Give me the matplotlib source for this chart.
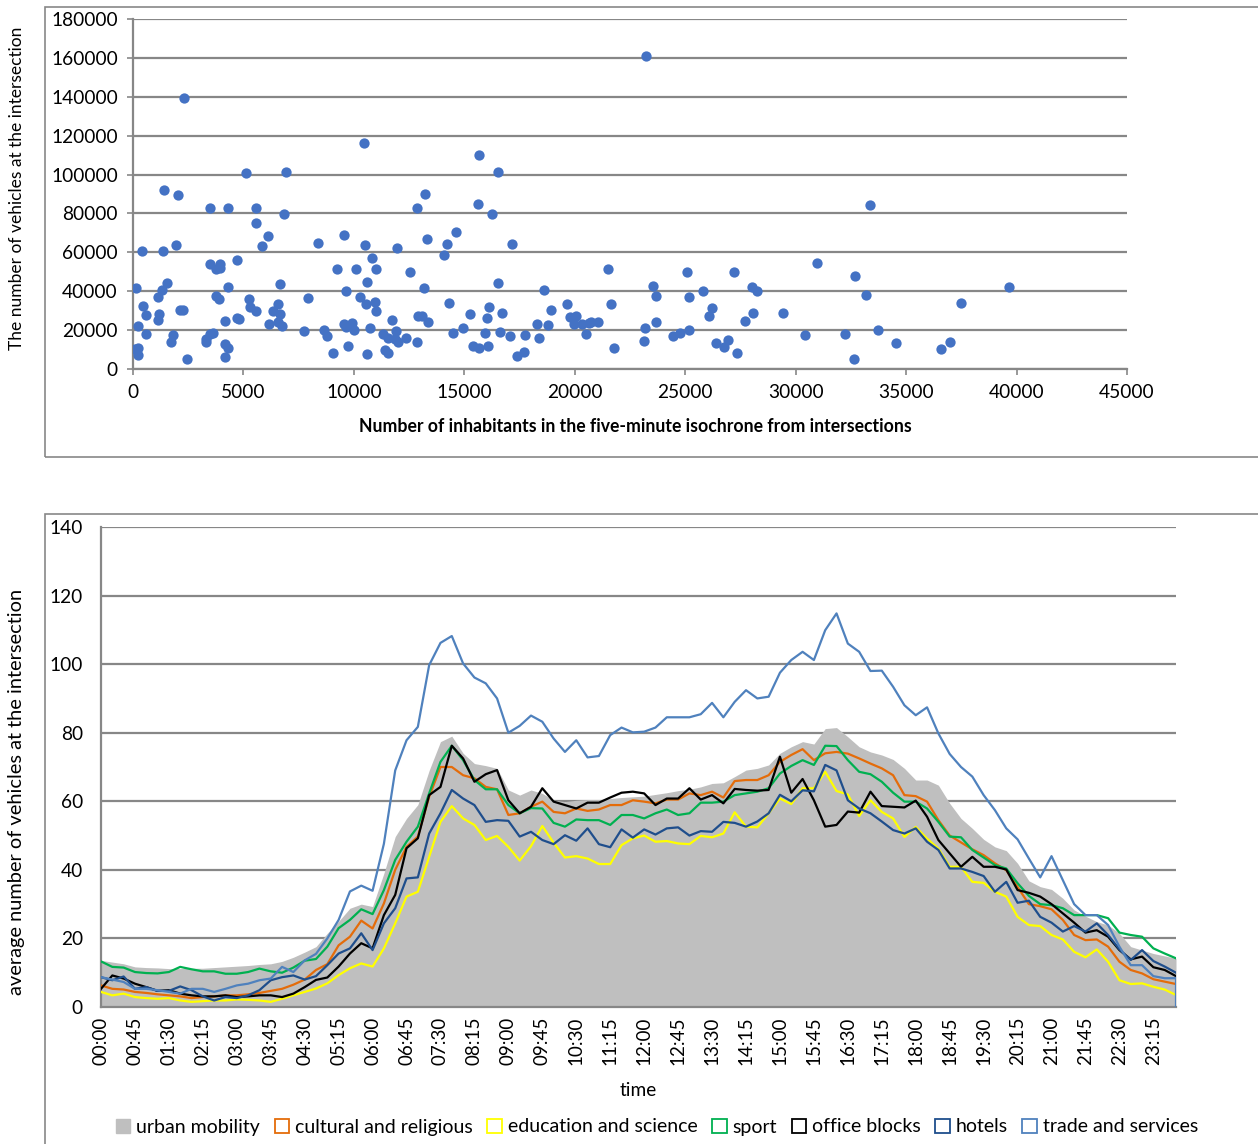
import matplotlib
matplotlib.use('Agg')
import matplotlib.pyplot as plt
from matplotlib.patches import Rectangle, Patch
from matplotlib.ticker import MultipleLocator, FuncFormatter

plt.rcParams['font.family'] = ['Lato', 'DejaVu Sans']

# --- top chart: inhabitants vs vehicles ---
inhabitants = [75, 226, 241, 151, 226, 407, 452, 573, 588, 1116, 1116, 1176, 1297, 1388, 1373,
               1538, 1719, 1810, 1931, 2021, 2112, 2262, 2323, 2443, 3288, 3318, 3469, 3620, 3469,
               3469, 3740, 3891, 3740, 3922, 3952, 4163, 4163, 4314, 4148, 4314, 4314, 4706, 4796,
               4706, 5098, 5249, 5309, 5581, 5551, 5551, 5852, 6094, 6154, 6335, 6546, 6667, 6576,
               6727, 6667, 6848, 6908, 7722, 7903, 8371, 8627, 8778, 9065, 9231, 9548, 9623, 9532,
               9653, 9744, 9925, 10015, 10106, 10256, 10437, 10498, 10558, 10588, 10588, 10709,
               10799, 10950, 10980, 11011, 11312, 11403, 11538, 11538, 11719, 11916, 11840, 12006,
               11946, 12368, 12549, 12866, 12866, 12922, 13072, 13238, 13163, 13298, 13374, 14081,
               14232, 14322, 14623, 14503, 14955, 15256, 15376, 15663, 15678, 15602, 15949, 16039,
               16099, 16084, 16235, 16521, 16521, 16611, 16717, 17078, 17154, 17364, 17696, 17756,
               18298, 18358, 18629, 18810, 18946, 19654, 19804, 19955, 20075, 20346, 20497, 20647,
               20753, 21054, 21506, 21657, 21792, 23132, 23192, 23237, 23538, 23658, 23689, 24443,
               24774, 25075, 25165, 25165, 25798, 26099, 26220, 26371, 26777, 26928, 27214, 27334,
               27696, 28012, 28087, 28268, 29443, 30407, 30979, 32244, 32620, 32666, 33193, 33343,
               33705, 34548, 36581, 37003, 37500, 39638]
vehicles = [10290, 10980, 7200, 41500, 22300, 60900, 32600, 27950, 18180, 36870, 25210, 28130,
            40470, 91920, 60710, 44420, 14060, 17490, 63970, 89350, 30530, 30530, 139430, 5150,
            13720, 15260, 17840, 18690, 53850, 82830, 37390, 35840, 51620, 54020, 51790, 24870,
            12860, 10980, 6000, 42020, 82660, 26410, 25550, 56250, 100670, 35840, 31730, 30010,
            82660, 75290, 63280, 68430, 23320, 30010, 33270, 28300, 24350, 22120, 43900, 79580,
            101360, 19380, 36360, 65000, 20240, 16980, 8060, 51620, 69110, 40130, 23150, 21780,
            11830, 23840, 19890, 51620, 37040, 116450, 63800, 33610, 44930, 7720, 20920, 56940,
            34300, 51620, 30010, 17840, 9780, 8400, 16120, 25210, 19550, 15430, 14060, 62430,
            16120, 50080, 14060, 83000, 27270, 27270, 90040, 41500, 67060, 24350, 58650, 64310,
            33790, 70660, 18690, 21270, 28300, 11830, 10980, 110100, 84890, 18350, 26410, 31900,
            12000, 79580, 101530, 44080, 18870, 28640, 17150, 64310, 6690, 8580, 17490, 23150,
            15780, 40650, 22640, 30530, 33440, 26930, 22980, 27270, 22980, 17840, 23840, 24350,
            24350, 51280, 33270, 10980, 14230, 21270, 161210, 42870, 37390, 24010, 17150, 18690,
            50080, 37220, 20070, 40300, 27270, 31210, 13210, 11490, 14920, 49730, 8400, 24700,
            42020, 28640, 40300, 28980, 17320, 54370, 17840, 5150, 47850, 38070, 84380, 19890,
            13550, 10460, 13720, 33790, 42190]

# --- bottom chart: average vehicles per 15 min ---
times = ['%02d:%02d' % (h, m) for h in range(24) for m in (0, 15, 30, 45)]

urban = [13.6, 13.1, 12.6, 11.7, 11.5, 11.4, 11.2, 11.2, 11.3, 11.3, 11.5, 11.7, 11.9, 12.1, 12.4, 12.6, 13.3, 14.5, 16,
         17.6, 21.5, 25, 28.8, 30, 29.3, 39, 49.7, 55, 59, 69, 77.4, 79, 74, 71, 70.4, 69.6, 63.3, 61.8, 63.3,
         62.3, 60.3, 59.9, 60.3, 60.5, 60.5, 60.8, 61.1, 61.3, 61.5, 62, 62.5, 63.1, 63.5, 64.2, 65.2, 65.4, 67.2, 69.1,
         69.6, 70.6, 74, 75.9, 77.4, 76.7, 81.2, 81.5, 78.8, 75.9, 74.4, 73.5, 72.2, 69.6, 66.2, 66.2, 64.7, 59.4, 55,
         52.1, 48.9, 46.7, 45.6, 41.9, 36.8, 35.1, 34.3, 31.7, 28.3, 26.5, 24.9, 23.9, 21.5, 17.6, 16.6, 15.6, 14.9, 14.2]
cultural = [6.3, 5.3, 5.1, 4.4, 4.1, 3.7, 3.4, 3.1, 2.6, 2.9, 3.1, 3.4, 3.4, 3.7, 4.1, 4.7, 5.3, 6.5, 8,
            10.8, 12.5, 18, 20.5, 25.2, 22.9, 30.2, 40, 46.7, 49.7, 61.3, 70, 70, 67.6, 66.7, 64.2, 63.5, 56, 56.5, 58.4,
            59.9, 56.9, 56.5, 57.9, 57.2, 57.6, 58.9, 58.9, 60.3, 59.9, 59.4, 60.5, 60.5, 62.3, 61.8, 62.8, 61.1, 65.9, 66.2,
            66.2, 67.6, 71.5, 73.5, 75.2, 72, 74, 74.4, 73.9, 72.5, 71, 69.6, 67.6, 61.8, 61.5, 59.9, 54.5, 50, 48,
            46, 44.3, 41.9, 39.9, 35, 30, 29.4, 28.5, 25.4, 21, 19.5, 19.7, 17.6, 13.2, 10.8, 9.8, 8.1, 7.4, 6.7]
education = [4.4, 3.4, 3.9, 2.9, 2.6, 2.4, 2.6, 1.9, 1.5, 1.7, 1.9, 1.9, 2.2, 2.1, 1.9, 1.5, 2.4, 3.4, 4.4,
             5.4, 6.9, 9.3, 11.3, 12.7, 11.8, 17.1, 24.4, 32.2, 33.6, 43.8, 54, 58.6, 55, 53.1, 48.7, 49.9, 46.7, 42.7, 46.9,
             52.8, 47.9, 43.6, 44, 43.3, 41.7, 41.7, 47.2, 49.2, 50, 48.2, 48.4, 47.7, 47.5, 49.9, 49.5, 50.6, 56.8, 52.6,
             52.4, 56.5, 60.8, 59.2, 63.8, 63.8, 68.6, 63, 62, 55.7, 60.3, 56.9, 55, 49.6, 52.5, 49.1, 46.2, 40.9, 40.9,
             36.5, 36.2, 33.6, 32.2, 26.3, 23.9, 23.6, 21, 19.7, 16.1, 14.5, 16.8, 13.2, 7.8, 6.7, 6.9, 5.9, 5.1, 3.5]
sport = [13.3, 11.7, 11.5, 10.2, 9.9, 9.8, 10.2, 11.7, 11, 10.4, 10.4, 9.7, 9.7, 10.2, 11.2, 10.4, 10, 11.5, 13.5,
         14, 17.6, 23, 25.4, 28.5, 27.1, 34.1, 42.9, 48.2, 52.6, 62.3, 71.5, 76.2, 72, 66.2, 63.5, 63.5, 58.9, 56.5, 58,
         57.9, 53.7, 52.6, 54.7, 54.5, 54.5, 53.1, 56, 56, 55, 56.5, 57.6, 56, 56.5, 59.6, 59.6, 59.9, 61.8, 62.3,
         62.8, 63.8, 68.1, 70.3, 72, 70.6, 76.2, 76.1, 72, 68.6, 67.9, 65.7, 62.5, 59.9, 59.9, 57.9, 54, 49.7, 49.5,
         45.8, 43.6, 41.4, 40.4, 36.1, 32.4, 30, 29.7, 28.8, 26.8, 26.8, 26.8, 25.9, 21.7, 21, 20.5, 17.1, 15.6, 14.2]
office = [5.3, 9.2, 8.3, 6.8, 5.8, 4.7, 4.9, 3.9, 3.4, 3.1, 3.1, 3.4, 2.9, 3.1, 3.4, 3.4, 2.9, 3.9, 5.8,
          7.9, 8.6, 11.8, 15.6, 18.6, 17.1, 26.8, 32.7, 46.3, 49.2, 61.8, 64.2, 76.2, 72.5, 65.7, 67.9, 69.1, 60.3, 56.5, 58.4,
          63.8, 59.9, 58.9, 57.9, 59.6, 59.6, 61.1, 62.5, 62.8, 62.3, 58.9, 60.8, 60.8, 63.8, 60.5, 61.8, 59.4, 63.6, 63.3,
          63.1, 63.3, 73, 62.5, 66.5, 60.3, 52.6, 53.1, 57, 56.7, 62.8, 58.6, 58.4, 58.2, 60.2, 55.5, 48.7, 44.8, 40.9,
          43.8, 40.9, 40.9, 40.1, 34.1, 33.3, 32.2, 30, 27.3, 24.6, 21.7, 22.4, 20.5, 16.6, 13.9, 14.7, 11.6, 10.8, 9]
hotels = [8.7, 7.8, 8.9, 5.3, 5.8, 4.7, 4.7, 6, 4.9, 3.1, 1.9, 2.9, 2.6, 3.4, 4.9, 7.8, 8.7, 9.2, 8,
          9, 12.2, 15.6, 17.1, 21.5, 16.6, 24.4, 28.8, 37.5, 37.8, 50.6, 56.5, 63.3, 60.8, 58.9, 54, 54.5, 54.3, 49.7, 51.1,
          48.7, 47.5, 50.1, 48.5, 52.1, 47.5, 46.6, 51.8, 49.4, 51.8, 50.3, 52.1, 52.4, 50, 51.3, 51.1, 54, 53.7, 52.6,
          54.1, 56.5, 61.9, 60, 63.2, 62.9, 70.6, 69, 60.3, 57.9, 56.5, 54.1, 51.6, 50.6, 52.1, 48.2, 45.8, 40.4, 40.4,
          39.4, 38.2, 33.6, 36.5, 30.4, 31, 26.3, 24.6, 22, 23.6, 22, 24.4, 21, 16.8, 13.7, 16.6, 13.4, 11.8, 10]
trade = [8.7, 8, 7.3, 5.3, 5.3, 4.9, 4.4, 3.9, 5.3, 5.3, 4.4, 5.3, 6.3, 6.8, 7.8, 8.3, 11.7, 10.2, 13.6,
         15.5, 20, 25.4, 33.7, 35.4, 33.9, 47.6, 69, 77.8, 81.7, 99.7, 106.2, 108.2, 100.2, 96.1, 94.4, 90, 80, 82, 85,
         83.2, 78.3, 74.4, 77.8, 72.8, 73.2, 79.3, 81.5, 80.1, 80.3, 81.5, 84.5, 84.5, 84.5, 85.4, 88.7, 84.5, 89, 92.4,
         90, 90.5, 97.5, 101.2, 103.6, 101.2, 109.9, 114.8, 106, 103.6, 98, 98.1, 93.4, 88, 85.1, 87.4, 79.8, 73.8, 70,
         67.2, 61.8, 57.4, 52.1, 48.9, 43.3, 37.8, 44, 37, 30, 26.8, 26.8, 23.9, 17.6, 12.2, 12.2, 9, 8.4, 8.4]

series = [('cultural and religious', cultural, '#E46C0A'),
          ('education and science', education, '#FFFF00'),
          ('sport', sport, '#00B050'),
          ('office blocks', office, '#000000'),
          ('hotels', hotels, '#1F4E8C'),
          ('trade and services', trade, '#4F81BD')]

W, H = 1258, 1144
GRID = '#878787'


def fx(px):
    return px / W


def fy(py):
    return 1 - py / H


fig = plt.figure(figsize=(W / 100, H / 100), dpi=100)

# chart area frames (Excel style)
fig.add_artist(Rectangle((fx(45), fy(457)), 1.05 - fx(45), fy(7) - fy(457),
                         transform=fig.transFigure, fill=False, edgecolor=GRID, lw=1.2))
fig.add_artist(Rectangle((fx(45), -0.05), 1.05 - fx(45), fy(514) + 0.05,
                         transform=fig.transFigure, fill=False, edgecolor=GRID, lw=1.2))

# ---- top scatter ----
ax1 = fig.add_axes([fx(133), fy(369), fx(1127) - fx(133), fy(19) - fy(369)])
ax1.scatter(inhabitants, vehicles, s=55, color='#4472C4', zorder=3, linewidths=0)
ax1.set_xlim(0, 45000)
ax1.set_ylim(0, 180000)
ax1.xaxis.set_major_locator(MultipleLocator(5000))
ax1.yaxis.set_major_locator(MultipleLocator(20000))
ax1.yaxis.set_major_formatter(FuncFormatter(lambda v, p: '%d' % v))
ax1.xaxis.set_major_formatter(FuncFormatter(lambda v, p: '%d' % v))
ax1.grid(axis='y', color=GRID, lw=1.6)
ax1.set_axisbelow(True)
for s in ['top', 'right']:
    ax1.spines[s].set_visible(False)
for s in ['left', 'bottom']:
    ax1.spines[s].set_color(GRID)
    ax1.spines[s].set_linewidth(1.6)
ax1.tick_params(axis='both', direction='out', length=4, width=1.2, color=GRID,
                labelsize=13.8, pad=7)

fig.text(fx(17), fy(188), 'The number of vehicles at the intersection', rotation=90,
         ha='center', va='center', fontsize=12.5)
fig.text(fx(635), fy(427), 'Number of inhabitants in the five-minute isochrone from intersections',
         ha='center', va='center', fontsize=12.7, fontweight='bold')

# ---- bottom area + lines ----
ax2 = fig.add_axes([fx(101), fy(1007), fx(1176) - fx(101), fy(527) - fy(1007)])
x = list(range(len(times)))
ax2.fill_between(x, urban, 0, color='#BFBFBF', lw=0, zorder=2)
for name, vals, col in series:
    ax2.plot(x, vals, color=col, lw=1.6, zorder=3)
ax2.plot([x[-1], x[-1]], [trade[-1], 0], color='#4F81BD', lw=1.6, zorder=3)
ax2.set_xlim(0, len(times) - 1)
ax2.set_ylim(0, 140)
ax2.yaxis.set_major_locator(MultipleLocator(20))
ax2.set_xticks(x[::3])
ax2.set_xticklabels(times[::3], rotation=90)
ax2.grid(axis='y', color=GRID, lw=1.6)
ax2.set_axisbelow(True)
for s in ['top', 'right']:
    ax2.spines[s].set_visible(False)
for s in ['left', 'bottom']:
    ax2.spines[s].set_color(GRID)
    ax2.spines[s].set_linewidth(1.6)
ax2.tick_params(axis='y', length=0, labelsize=13.8, pad=13)
ax2.tick_params(axis='x', length=0, labelsize=13.5, pad=7)

fig.text(fx(17), fy(792), 'average number of vehicles at the intersection', rotation=90,
         ha='center', va='center', fontsize=14.4)
fig.text(fx(638), fy(1091), 'time', ha='center', va='center', fontsize=13.8)

handles = [Patch(facecolor='#BFBFBF', edgecolor='#BFBFBF', label='urban mobility')]
for name, vals, col in series:
    handles.append(Patch(facecolor='white', edgecolor=col, lw=1.3, label=name))
fig.legend(handles=handles, loc='center', bbox_to_anchor=(fx(657), fy(1127)), ncol=7,
           frameon=False, fontsize=14, handlelength=0.75, handleheight=0.75,
           handletextpad=0.3, columnspacing=0.75, borderaxespad=0)

fig.savefig('out.png', dpi=100)
